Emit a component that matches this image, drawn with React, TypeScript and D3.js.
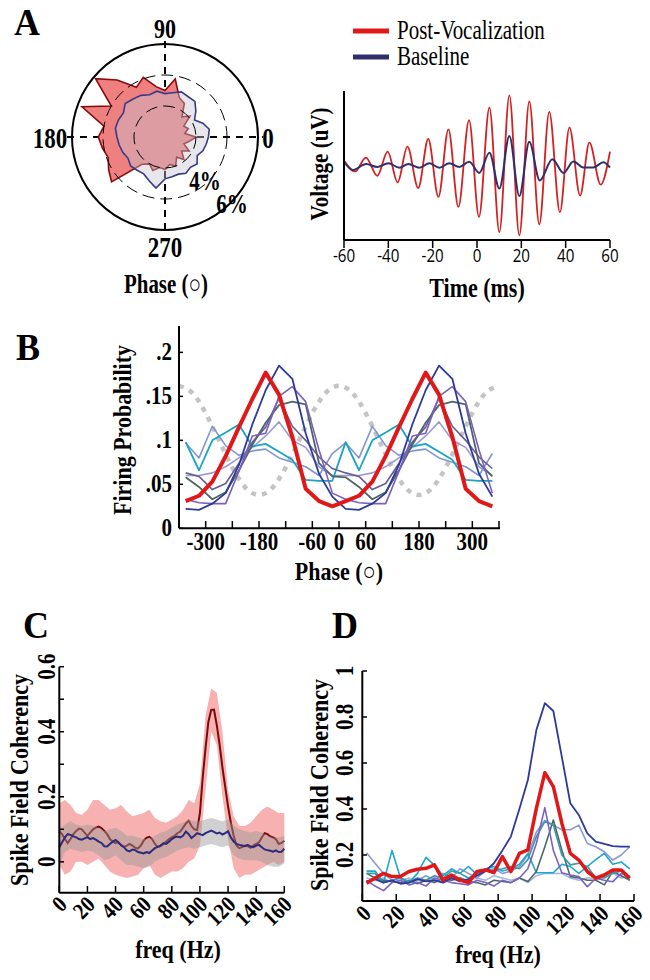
import React from 'react';
import * as d3 from 'd3';

const SERIF = '"Liberation Serif", "Times New Roman", serif';
const SANS = '"Open Sans", "DejaVu Sans", sans-serif';

// ---------- Panel A (polar) ----------
const polarAngles = [0,10,20,30,40,50,60,70,80,90,100,110,120,130,140,150,160,170,180,190,200,210,220,230,240,250,260,270,280,290,300,310,320,330,340,350];
const polarPost = [2.0,1.3,1.6,1.4,2.1,1.7,2.5,2.7,3.8,3.0,3.3,4.1,3.7,4.8,5.85,4.0,5.7,4.0,4.3,4.1,3.9,4.2,4.5,2.3,2.0,2.3,2.0,2.1,1.8,2.0,1.5,1.9,1.4,1.8,1.3,1.6];
const polarBase = [2.8,2.9,2.6,2.2,2.6,3.0,3.0,3.1,2.9,2.8,3.0,2.9,3.1,3.2,3.35,3.1,3.2,3.25,3.1,3.0,2.9,2.75,2.9,2.8,2.75,3.0,3.35,2.7,2.6,2.55,2.7,2.55,2.7,2.4,2.6,2.7];
const polarRings = [2, 4];
const polarMax = 6;

// ---------- Panel A (waveform) ----------
const wavePostT = [-60,-55,-50.1,-45,-40.3,-35.8,-31.4,-26.5,-22,-17.4,-12.9,-8.4,-3.6,0.9,5.6,10.1,14.6,19.1,23.6,28.1,32.6,37.4,41.7,46.5,50.7,55.8,60];
const wavePostV = [6.7,-8,10.7,-13.8,18.7,-22.7,25.3,-30.2,35.6,-42.2,48.4,-55.6,60.9,-68.9,77.8,-89.3,94.2,-93.8,86.2,-79.1,72,-62.7,51.1,-40.4,30.7,-25.8,18.7];
const waveBaseT = [-60,-56,-50,-45,-40,-35,-31,-26,-21.5,-17,-12.5,-8,-3.5,1,5.6,10.1,14.6,19.1,23.6,28.3,34,39,43.5,48,52.5,57,60];
const waveBaseV = [5,-6,2,-2,3,-3,2,-3,3,-3,3,-2,5,-10,17,-31,39.5,-41,32,-20,8.4,-10,5.3,-2.7,-2.7,4.4,-2.7];
const waveTicks = [-60,-40,-20,0,20,40,60];

// ---------- Panel B ----------
const phaseBins = [-345,-315,-285,-255,-225,-195,-165,-135,-105,-75,-45,-15,15,45,75,105,135,165,195,225,255,285,315,345];
const bRed = [0.031,0.037,0.053,0.082,0.115,0.147,0.177,0.152,0.104,0.045,0.031,0.025];
const bNavy = [0.022,0.021,0.028,0.040,0.072,0.118,0.157,0.185,0.170,0.108,0.062,0.036];
const bPurple = [0.033,0.029,0.028,0.028,0.065,0.105,0.108,0.150,0.161,0.144,0.089,0.040];
const bTealGray = [0.058,0.047,0.033,0.041,0.066,0.095,0.120,0.140,0.144,0.141,0.074,0.059];
const bSlate = [0.063,0.059,0.044,0.051,0.074,0.098,0.115,0.148,0.116,0.100,0.081,0.068];
const bPeri = [0.060,0.060,0.063,0.070,0.080,0.092,0.105,0.121,0.100,0.092,0.070,0.060];
const bLight = [0.097,0.080,0.116,0.094,0.083,0.088,0.090,0.080,0.075,0.070,0.060,0.085];
const bCyan = [0.098,0.066,0.100,0.109,0.118,0.093,0.096,0.087,0.078,0.055,0.054,0.054];
const lfpPhase = [-360,-330,-300,-270,-240,-210,-180,-150,-120,-90,-60,-30,0,30,60,90,120,150,180,210,240,270,300,330,360];
const lfpRef = [0.162,0.154,0.131,0.100,0.069,0.046,0.038,0.046,0.069,0.100,0.131,0.154,0.162,0.154,0.131,0.100,0.069,0.046,0.038,0.046,0.069,0.100,0.131,0.154,0.162];
const bXTicks = [-300,-240,-180,-120,-60,0,60,120,180,240,300,360];
const bXLabels = [-300,-180,-60,0,60,180,300];
const bYTicks = [0,0.05,0.1,0.15,0.2];
const bYLabels = ['0','.05','.1','.15','.2'];

// ---------- Panel C ----------
const cFreq = [0,2,4,6,8,10,12,14,16,18,20,22,24,26,28,30,32,34,36,38,40,42,44,46,48,50,52,54,56,58,60,62,64,66,68,70,72,74,76,78,80,82,84,86,88,90,92,94,96,98,100,102,104,106,108,110,112,114,116,118,120,122,124,126,128,130,132,134,136,138,140,142,144,146,148,150,152,154,156,158,160];
const cPost = [.093,.085,.07,.058,.07,.085,.095,.102,.1,.09,
  .08,.09,.1,.105,.108,.104,.095,.085,.07,.062,
  .057,.06,.052,.046,.05,.055,.05,.043,.041,.05,
  .065,.074,.077,.07,.055,.046,.048,.055,.062,.07,
  .075,.08,.088,.093,.105,.118,.126,.11,.1,.098,
  .15,.26,.35,.43,.467,.468,.42,.36,.29,.23,
  .17,.12,.08,.05,.042,.045,.05,.048,.043,.05,
  .055,.06,.075,.088,.085,.078,.075,.07,.055,.058,
  .065];
const cBase = [.045,.06,.075,.085,.083,.078,.075,.07,.068,.072,
  .076,.07,.073,.068,.062,.058,.048,.047,.055,.062,
  .067,.06,.05,.045,.035,.032,.038,.036,.03,.028,
  .026,.03,.027,.035,.042,.046,.05,.057,.055,.062,
  .07,.075,.078,.075,.08,.093,.085,.073,.08,.088,
  .085,.082,.088,.092,.096,.092,.087,.09,.084,.088,
  .094,.075,.062,.055,.052,.05,.048,.052,.047,.045,
  .05,.052,.045,.038,.036,.034,.031,.035,.03,.031,
  .04];
const cBandFreq = [0,4,8,12,16,20,24,28,32,36,40,44,48,52,56,60,64,68,72,76,80,84,88,92,96,100,104,108,112,116,120,124,128,132,136,140,144,148,152,156,160];
const cPostHi = [.18,.19,.175,.15,.145,.16,.19,.19,.175,.16,.165,.175,.155,.14,.145,.15,.16,.135,.125,.12,.13,.14,.16,.19,.18,.24,.45,.533,.52,.4,.22,.14,.11,.11,.12,.14,.16,.17,.16,.15,.15];
const cPostLo = [-.01,-.04,-.03,0,0,-.01,0,.01,-.01,-.03,-.04,-.045,-.05,-.045,-.04,-.02,-.01,-.04,-.05,-.04,-.03,-.03,-.02,0,.01,.05,.22,.4,.36,.2,.07,-.02,-.05,-.04,-.04,-.03,-.02,-.01,0,-.01,0];
const cBaseHi = [.1,.115,.125,.115,.11,.115,.11,.105,.095,.1,.105,.095,.08,.08,.075,.07,.07,.08,.09,.095,.105,.115,.12,.13,.125,.125,.13,.135,.13,.125,.13,.11,.1,.095,.09,.095,.09,.08,.075,.075,.08];
const cBaseLo = [-.01,.03,.04,.035,.03,.035,.03,.02,.005,.01,.02,.005,-.01,-.01,-.015,-.02,-.015,0,.01,.015,.025,.035,.04,.045,.04,.045,.05,.055,.05,.045,.05,.02,.01,.005,.005,.005,0,-.01,-.015,-.015,-.005];
const cYTicks = [0,0.1,0.2,0.3,0.4,0.5,0.6];
const cYLabels = [0,0.2,0.4,0.6];
const freqTicks = [0,20,40,60,80,100,120,140,160];

// ---------- Panel D ----------
const dFreq = [2.5,7.5,12.5,17.5,22.5,27.5,32.5,37.5,42.5,47.5,52.5,57.5,62.5,67.5,72.5,77.5,82.5,87.5,92.5,97.5,102.5,107.5,112.5,117.5,122.5,127.5,132.5,137.5,142.5,147.5,152.5,157.5];
const dPale = [.1,.09,.1,.08,.09,.1,.08,.09,.1,.08,.09,.1,.09,.1,.09,.11,.1,.09,.1,.08,.11,.12,.12,.12,.1,.09,.1,.1,.11,.12,.1,.11];
const dPeri = [.21,.164,.12,.09,.1,.08,.09,.11,.09,.12,.1,.14,.12,.1,.13,.14,.12,.13,.15,.2,.3,.35,.33,.31,.31,.33,.25,.236,.214,.178,.2,.236];
const dCyan = [.13,.13,.08,.22,.1,.08,.12,.19,.155,.11,.14,.12,.15,.115,.14,.15,.13,.14,.16,.207,.123,.123,.123,.16,.15,.12,.15,.18,.207,.16,.17,.14];
const dDarkTeal = [.12,.1,.09,.085,.08,.09,.075,.09,.08,.1,.09,.1,.085,.08,.07,.09,.085,.08,.1,.085,.128,.236,.352,.222,.106,.1,.09,.09,.07,.128,.11,.09];
const dTeal = [.12,.12,.08,.09,.1,.085,.1,.09,.11,.1,.13,.12,.1,.12,.14,.13,.14,.15,.14,.18,.28,.345,.33,.2,.157,.164,.15,.1,.1,.12,.13,.09];
const dPurple = [.09,.065,.045,.08,.09,.07,.08,.065,.1,.09,.08,.075,.07,.09,.08,.065,.09,.08,.1,.14,.25,.406,.22,.123,.113,.106,.062,.099,.09,.084,.12,.106];
const dNavy = [.085,.095,.08,.09,.075,.08,.095,.085,.09,.08,.1,.085,.095,.11,.13,.164,.22,.28,.40,.526,.743,.86,.826,.627,.425,.374,.294,.258,.248,.239,.236,.236];
const dRed = [.077,.10,.12,.106,.106,.128,.138,.142,.157,.091,.113,.091,.08,.128,.135,.123,.193,.128,.207,.222,.403,.558,.497,.338,.207,.178,.128,.099,.113,.135,.135,.099];
const dYTicks = [0.2,0.4,0.6,0.8,1];
const dYLabels = ['0.2','0.4','0.6','0.8','1'];

const C_RED = '#e01818';
const C_NAVY = '#2b3a9b';

function Txt(props: any) {
  const { x, y, rotate = 0, size = 21, anchor = 'middle', weight = 'bold', family = SERIF, children, fill = '#000', sx = 1, sy = 1.15 } = props;
  return (
    <text transform={`translate(${x},${y}) rotate(${rotate}) scale(${sx},${sy})`} textAnchor={anchor} fontSize={size} fontWeight={weight} fontFamily={family} fill={fill}>
      {children}
    </text>
  );
}

function PolarPanel() {
  const cx = 165, cy = 137;
  const r = d3.scaleLinear().domain([0, polarMax]).range([0, 93]);
  const radial = d3.lineRadial<number>()
    .angle((d, i) => (90 - polarAngles[i]) * Math.PI / 180)
    .radius(d => r(d))
    .curve(d3.curveLinearClosed);
  const R = r(polarMax);
  return (
    <g>
      <g transform={`translate(${cx},${cy})`}>
        <line x1={-R - 5} x2={R + 5} y1={0} y2={0} stroke="#000" strokeWidth={2} strokeDasharray="7,6" />
        <line y1={-R - 3} y2={R + 5} x1={0} x2={0} stroke="#000" strokeWidth={2} strokeDasharray="7,6" />
        <path d={radial(polarPost) || ''} fill="#ef8080" stroke="#8b0a0a" strokeWidth={1.6} strokeLinejoin="miter" />
        <path d={radial(polarBase) || ''} fill="rgba(196,196,208,0.42)" stroke="#3a3a86" strokeWidth={1.6} />
        {polarRings.map(v => (
          <circle key={v} r={r(v)} fill="none" stroke="#000" strokeWidth={1} strokeDasharray="12,6" />
        ))}
        <circle r={R} fill="none" stroke="#000" strokeWidth={2} />
      </g>
      <Txt x={27} y={35} size={36} sy={1.05}>A</Txt>
      <Txt x={165} y={38} size={22} sy={1.25}>90</Txt>
      <Txt x={50} y={148} size={23} sy={1.3}>180</Txt>
      <Txt x={268} y={148} size={23} sy={1.3}>0</Txt>
      <Txt x={165} y={257} size={23} sy={1.3}>270</Txt>
      <Txt x={205} y={190} size={21} sy={1.25}>4%</Txt>
      <Txt x={232} y={213} size={21} sy={1.25}>6%</Txt>
      <Txt x={166} y={293} size={22} sy={1.2} sx={0.95}>Phase (○)</Txt>
    </g>
  );
}

function WavePanel() {
  const x = d3.scaleLinear().domain([-60, 60]).range([344, 610]);
  const y = d3.scaleLinear().domain([-100, 100]).range([240, 91]);
  const line = (ts: number[], vs: number[]) =>
    d3.line<number>().x((d, i) => x(ts[i])).y(d => y(d)).curve(d3.curveMonotoneX)(vs) || '';
  return (
    <g>
      <line x1={353} x2={389} y1={31} y2={31} stroke={C_RED} strokeWidth={5} />
      <line x1={353} x2={389} y1={57} y2={57} stroke="#2f2f6e" strokeWidth={5} />
      <Txt x={397} y={39} size={21} anchor="start" weight="normal" sy={1.25}>Post-Vocalization</Txt>
      <Txt x={397} y={65} size={21} anchor="start" weight="normal" sy={1.25}>Baseline</Txt>
      <path d={line(wavePostT, wavePostV)} fill="none" stroke="#d42020" strokeWidth={1.8} />
      <path d={line(waveBaseT, waveBaseV)} fill="none" stroke="#2f2f6e" strokeWidth={2} />
      <line x1={x(-60)} x2={x(-60)} y1={91} y2={240} stroke="#000" strokeWidth={2} />
      <line x1={x(-60)} x2={x(60)} y1={240} y2={240} stroke="#000" strokeWidth={2} />
      {waveTicks.map(t => (
        <g key={t}>
          <line x1={x(t)} x2={x(t)} y1={240} y2={248} stroke="#000" strokeWidth={1.5} />
          <Txt x={x(t)} y={262} size={16.5} weight="normal" family={SANS} sy={1.05} sx={0.92}>{t < 0 ? `-${-t}` : `${t}`}</Txt>
        </g>
      ))}
      <Txt x={328} y={164} size={21} rotate={-90} sy={1.2}>Voltage (uV)</Txt>
      <Txt x={477} y={297} size={22} sy={1.2}>Time (ms)</Txt>
    </g>
  );
}

function PhasePanel() {
  const x = d3.scaleLinear().domain([-360, 360]).range([179, 499]);
  const y = d3.scaleLinear().domain([0, 0.23]).range([528.3, 326]);
  const mk = (vals: number[]) => {
    const full = vals.concat(vals);
    return d3.line<number>().x((d, i) => x(phaseBins[i])).y(d => y(d))(full) || '';
  };
  const ref = d3.line<number>().x((d, i) => x(lfpPhase[i])).y(d => y(d)).curve(d3.curveNatural)(lfpRef) || '';
  const series = [
    { v: bLight, c: '#7f96d6', w: 1.6 },
    { v: bPeri, c: '#9a9ad6', w: 1.6 },
    { v: bCyan, c: '#1ba3c6', w: 1.8 },
    { v: bSlate, c: '#6b5b95', w: 1.6 },
    { v: bTealGray, c: '#4e6666', w: 1.8 },
    { v: bPurple, c: '#7b5fc0', w: 1.6 },
    { v: bNavy, c: C_NAVY, w: 1.8 },
  ];
  return (
    <g>
      <Txt x={28} y={360} size={36} sy={1.05}>B</Txt>
      <path d={ref} fill="none" stroke="#c4c4c4" strokeWidth={4.5} strokeDasharray="5,6" />
      {series.map((s, i) => (
        <path key={i} d={mk(s.v)} fill="none" stroke={s.c} strokeWidth={s.w} strokeLinejoin="round" />
      ))}
      <path d={mk(bRed)} fill="none" stroke={C_RED} strokeWidth={4} strokeLinejoin="round" />
      <line x1={179} x2={179} y1={326} y2={528.3} stroke="#000" strokeWidth={2} />
      <line x1={179} x2={500} y1={528.3} y2={528.3} stroke="#000" strokeWidth={2} />
      {bXTicks.map(t => (
        <line key={t} x1={x(t)} x2={x(t)} y1={528.3} y2={521} stroke="#000" strokeWidth={1.5} />
      ))}
      {bYTicks.map(t => (
        <line key={t} x1={179} x2={183} y1={y(t)} y2={y(t)} stroke="#000" strokeWidth={1.5} />
      ))}
      {bXLabels.map(t => (
        <Txt key={t} x={x(t)} y={550} size={21}>{t < 0 ? `-${-t}` : `${t}`}</Txt>
      ))}
      {bYTicks.map((t, i) => (
        <Txt key={t} x={172} y={y(t) + 7.5} size={21} anchor="end">{bYLabels[i]}</Txt>
      ))}
      <Txt x={131} y={430} size={22} rotate={-90}>Firing Probability</Txt>
      <Txt x={339} y={580} size={22}>Phase (○)</Txt>
    </g>
  );
}

function CohPanelC() {
  const x = d3.scaleLinear().domain([0, 160]).range([59.3, 284.3]);
  const y = d3.scaleLinear().domain([-0.095, 0.6]).range([892.7, 666.7]);
  const band = (lo: number[], hi: number[]) =>
    d3.area<number>().x((d, i) => x(cBandFreq[i])).y0((d, i) => y(lo[i])).y1(d => y(d))(hi) || '';
  const ln = (v: number[]) => d3.line<number>().x((d, i) => x(cFreq[i])).y(d => y(d))(v) || '';
  return (
    <g>
      <Txt x={36} y={638} size={36} sy={1.05}>C</Txt>
      <path d={band(cPostLo, cPostHi)} fill="#f7a9a9" opacity={0.9} />
      <path d={ln(cPost)} fill="none" stroke="#7a0a0a" strokeWidth={2} />
      <path d={band(cBaseLo, cBaseHi)} fill="rgba(150,150,150,0.45)" />
      <path d={ln(cBase)} fill="none" stroke="#2b2b7c" strokeWidth={2} />
      <line x1={59.3} x2={59.3} y1={666.7} y2={892.7} stroke="#000" strokeWidth={2} />
      <line x1={59.3} x2={284.3} y1={892.7} y2={892.7} stroke="#000" strokeWidth={2} />
      {cYTicks.map(t => (
        <line key={t} x1={59.3} x2={64} y1={y(t)} y2={y(t)} stroke="#000" strokeWidth={1.5} />
      ))}
      {freqTicks.map(t => (
        <line key={t} x1={x(t)} x2={x(t)} y1={892.7} y2={886} stroke="#000" strokeWidth={1.5} />
      ))}
      {cYLabels.map(t => (
        <Txt key={t} x={55} y={y(t)} size={21} rotate={-90}>{t === 0 ? '0' : t.toFixed(1)}</Txt>
      ))}
      {freqTicks.map(t => (
        <Txt key={t} x={x(t) + 9} y={906} size={20} rotate={-45} anchor="end">{t}</Txt>
      ))}
      <Txt x={28} y={780} size={22} rotate={-90}>Spike Field Coherency</Txt>
      <Txt x={178} y={958} size={22}>freq (Hz)</Txt>
    </g>
  );
}

function CohPanelD() {
  const x = d3.scaleLinear().domain([0, 160]).range([362.3, 634]);
  const y = d3.scaleLinear().domain([0, 1]).range([901, 671]);
  const ln = (v: number[]) => d3.line<number>().x((d, i) => x(dFreq[i])).y(d => y(d))(v) || '';
  const series = [
    { v: dPale, c: '#a3b4e4', w: 1.5 },
    { v: dPeri, c: '#8b99d6', w: 1.6 },
    { v: dCyan, c: '#1ea5d0', w: 1.6 },
    { v: dDarkTeal, c: '#4b6767', w: 1.6 },
    { v: dTeal, c: '#3a9aa6', w: 1.6 },
    { v: dPurple, c: '#7b62c3', w: 1.6 },
    { v: dNavy, c: C_NAVY, w: 1.8 },
  ];
  return (
    <g>
      <Txt x={345} y={638} size={36} sy={1.05}>D</Txt>
      {series.map((s, i) => (
        <path key={i} d={ln(s.v)} fill="none" stroke={s.c} strokeWidth={s.w} strokeLinejoin="round" />
      ))}
      <path d={ln(dRed)} fill="none" stroke={C_RED} strokeWidth={3.5} strokeLinejoin="round" />
      <line x1={362.3} x2={362.3} y1={671} y2={901} stroke="#000" strokeWidth={2} />
      <line x1={362.3} x2={634} y1={901} y2={901} stroke="#000" strokeWidth={2} />
      {dYTicks.map(t => (
        <line key={t} x1={362.3} x2={367} y1={y(t)} y2={y(t)} stroke="#000" strokeWidth={1.5} />
      ))}
      {freqTicks.map(t => (
        <line key={t} x1={x(t)} x2={x(t)} y1={901} y2={894} stroke="#000" strokeWidth={1.5} />
      ))}
      {dYTicks.map((t, i) => (
        <Txt key={t} x={353} y={y(t)} size={21} rotate={-90}>{dYLabels[i]}</Txt>
      ))}
      {freqTicks.map(t => (
        <Txt key={t} x={x(t) + 10} y={915} size={20} rotate={-45} anchor="end">{t}</Txt>
      ))}
      <Txt x={328} y={785} size={22} rotate={-90}>Spike Field Coherency</Txt>
      <Txt x={498} y={963} size={22}>freq (Hz)</Txt>
    </g>
  );
}

export default function App() {
  return (
    <svg width={650} height={980} viewBox="0 0 650 980" style={{ position: 'absolute', left: 0, top: 0, background: '#fff' }}>
      <rect width={650} height={980} fill="#fff" />
      <PolarPanel />
      <WavePanel />
      <PhasePanel />
      <CohPanelC />
      <CohPanelD />
    </svg>
  );
}
